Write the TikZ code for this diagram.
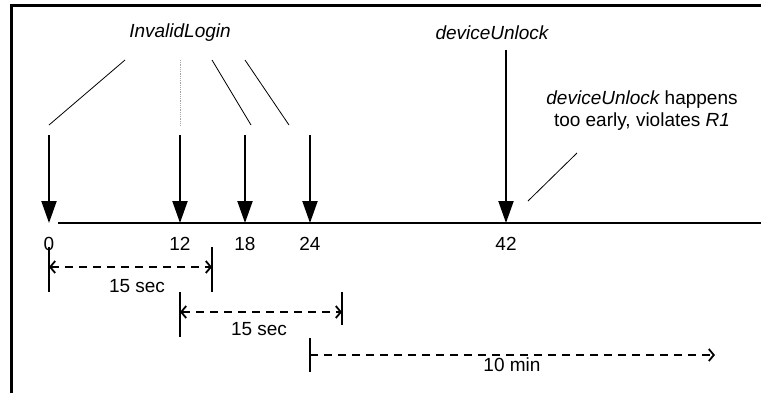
\documentclass[tikz,border=0pt]{standalone}
\usepackage{fontspec}
\setmainfont{Liberation Sans}
\usetikzlibrary{arrows.meta}
\tikzset{barb/.tip={Straight Barb[length=5pt,width=12pt,line width=1.8pt]}}
\begin{document}
\begin{tikzpicture}[x=1pt,y=-1pt,
  lbl/.style={inner sep=0pt,font=\fontsize{19}{22}\selectfont},
  evarrow/.style={line width=2pt,-{Triangle[width=15pt,length=22pt]}},
  axis/.style={line width=2pt},
  thin/.style={line width=0.8pt},
  tick/.style={line width=1.8pt},
  dim/.style={line width=1.8pt,dash pattern=on 8pt off 6pt}]
\useasboundingbox (0,0) rectangle (761,392);
\clip (0,0) rectangle (761,392);
\draw[line width=3pt] (11,5) rectangle (780,410);
% axis
\coordinate (axL) at (58,223);
\coordinate (axR) at (770,223);
\draw[axis] (axL) -- (axR);
% time points
\foreach \n/\x in {0/49,12/180,18/245,24/310,42/506}{
  \coordinate (t\n) at (\x,223);
  \node[lbl] (l\n) at (\x,244) {\n};
}
\coordinate (a0) at (49,135);
\coordinate (a12) at (180,135);
\coordinate (a18) at (245,135);
\coordinate (a24) at (310,135);
\coordinate (a42) at (506,50);
\foreach \n in {0,12,18,24,42}{\draw[evarrow] (a\n) -- (t\n);}
% labels
\node[lbl] (inv) at (180,33) {\itshape InvalidLogin};
\node[lbl] (dev) at (492,33) {\itshape deviceUnlock};
\node[lbl,align=center] (note) at (642,111) {\itshape deviceUnlock\upshape{} happens\\too early, violates \itshape R1};
% pointer lines
\coordinate (p1a) at (125,60); \coordinate (p1b) at (49,125);
\coordinate (p2a) at (180,60); \coordinate (p2b) at (180,125);
\coordinate (p3a) at (212,60); \coordinate (p3b) at (251,125);
\coordinate (p4a) at (245,60); \coordinate (p4b) at (289,125);
\draw[thin] (p1a) -- (p1b);
\draw[thin,gray!70,densely dotted] (p2a) -- (p2b);
\draw[thin] (p3a) -- (p3b);
\draw[thin] (p4a) -- (p4b);
\coordinate (n1) at (577,153); \coordinate (n2) at (528,201);
\draw[thin] (n1) -- (n2);
% dimension 1
\coordinate (d1a) at (49,247); \coordinate (d1b) at (49,292);
\coordinate (d1c) at (212,247); \coordinate (d1d) at (212,292);
\draw[tick] (d1a) -- (d1b);
\draw[tick] (d1c) -- (d1d);
\coordinate (d1l) at (49,267); \coordinate (d1r) at (212,267);
\draw[dim,barb-barb] (d1l) -- (d1r);
\node[lbl] (s1) at (137,286) {15 sec};
% dimension 2
\coordinate (d2a) at (180,292); \coordinate (d2b) at (180,337);
\coordinate (d2c) at (342,292); \coordinate (d2d) at (342,325);
\draw[tick] (d2a) -- (d2b);
\draw[tick] (d2c) -- (d2d);
\coordinate (d2l) at (180,312); \coordinate (d2r) at (342,312);
\draw[dim,barb-barb] (d2l) -- (d2r);
\node[lbl] (s2) at (259,329) {15 sec};
% dimension 3
\coordinate (d3a) at (310,338); \coordinate (d3b) at (310,372);
\draw[tick] (d3a) -- (d3b);
\coordinate (d3l) at (310,355); \coordinate (d3r) at (715,355);
\draw[dim,-barb] (d3l) -- (d3r);
\node[lbl] (s3) at (512,365) {10 min};
\end{tikzpicture}
\end{document}
